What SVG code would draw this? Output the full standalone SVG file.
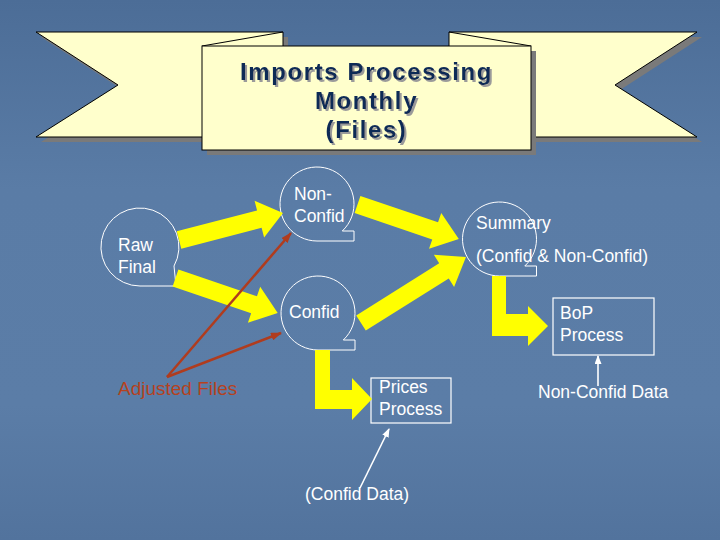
<svg xmlns="http://www.w3.org/2000/svg" width="720" height="540" viewBox="0 0 720 540">
<defs>
<linearGradient id="bg" x1="0" y1="0" x2="0" y2="1">
<stop offset="0" stop-color="#4C6D97"/>
<stop offset="0.35" stop-color="#5A7CA6"/>
<stop offset="0.75" stop-color="#5B7DA7"/>
<stop offset="1" stop-color="#52739D"/>
</linearGradient>
<filter id="tshadow" x="-10%" y="-30%" width="130%" height="160%">
<feFlood flood-color="#9A9A9A" result="c"/>
<feComposite in="c" in2="SourceAlpha" operator="in" result="s"/>
<feOffset in="s" dx="2" dy="1.5" result="o"/>
<feMerge><feMergeNode in="o"/><feMergeNode in="SourceGraphic"/></feMerge>
</filter>
<marker id="redHead" markerUnits="userSpaceOnUse" markerWidth="11" markerHeight="8" refX="10" refY="4" orient="auto">
<path d="M0,0 L11,4 L0,8 Z" fill="#B03C1E"/>
</marker>
<marker id="whiteHead" markerUnits="userSpaceOnUse" markerWidth="9" markerHeight="7" refX="8" refY="3.5" orient="auto">
<path d="M0,0 L9,3.5 L0,7 Z" fill="#FFFFFF"/>
</marker>
</defs>
<style>
.rib{fill:#FFFFCC;stroke:#000;stroke-width:1;stroke-linejoin:miter}
.shd{fill:#7A7A7A}
.title{font-family:"Liberation Sans",Arial,sans-serif;font-weight:bold;font-size:24px;letter-spacing:1.6px;text-anchor:middle;fill:#0C2A57}
.w{font-family:"Liberation Sans",Arial,sans-serif;font-size:17.5px;fill:#FFFFFF}
.bub{fill:none;stroke:#FFFFFF;stroke-width:1}
.box{fill:none;stroke:#FFFFFF;stroke-width:1.2}
.ya{fill:#FFFF00}
.red{stroke:#B03C1E;stroke-width:2.5;fill:none}
.wl{stroke:#FFFFFF;stroke-width:1.6;fill:none}
</style>
<rect x="0" y="0" width="720" height="540" fill="url(#bg)"/>

<g id="ribbon">
<polygon class="shd" points="41,37 288,37 288,142 41,142 123,90"/>
<polygon class="shd" points="454,37 702,37 620,90 702,142 454,142"/>
<polygon class="rib" points="36,32 283,32 283,137 36,137 118,85"/>
<line x1="283" y1="32" x2="202" y2="46" stroke="#000" stroke-width="1"/>
<polygon class="rib" points="449,32 697,32 615,85 697,137 449,137"/>
<line x1="449" y1="32" x2="531" y2="46" stroke="#000" stroke-width="1"/>
<rect class="shd" x="207" y="51" width="329" height="104"/>
<rect class="rib" x="202" y="46" width="329" height="104"/>
<g class="title" filter="url(#tshadow)">
<text x="366.5" y="80">Imports Processing</text>
<text x="366.5" y="109">Monthly</text>
<text x="366.5" y="138">(Files)</text>
</g>
</g>

<g id="raw-final">
<path class="bub" d="M174,266 A39,39 0 1 0 140,286 L176,286 Z"/>
<text class="w" x="118" y="251">Raw</text>
<text class="w" x="118" y="273">Final</text>
</g>

<g id="non-confid">
<path class="bub" d="M342.3,231 A37,37 0 1 0 317,241 L354,241 L354,231 Z"/>
<text class="w" x="294" y="200">Non-</text>
<text class="w" x="294" y="222">Confid</text>
</g>

<g id="confid">
<path class="bub" d="M343.3,340 A37,37 0 1 0 318,350 L355,350 L355,340 Z"/>
<text class="w" x="289" y="318">Confid</text>
</g>

<g id="summary">
<path class="bub" d="M524.8,266 A37,37 0 1 0 499.5,276 L536.5,276 L536.5,266 Z"/>
<text class="w" x="476" y="229">Summary</text>
<text class="w" x="476" y="262">(Confid &amp; Non-Confid)</text>
</g>

<g id="bop-process">
<rect class="box" x="553" y="298" width="101" height="57"/>
<text class="w" x="560" y="319">BoP</text>
<text class="w" x="560" y="341">Process</text>
</g>

<g id="prices-process">
<rect class="box" x="371" y="378" width="80" height="45"/>
<text class="w" x="379" y="393">Prices</text>
<text class="w" x="379" y="415">Process</text>
</g>

<g id="adjusted-files">
<text x="118" y="395" font-family="Liberation Sans, Arial, sans-serif" font-size="19" fill="#B5421F">Adjusted Files</text>
</g>

<g id="confid-data">
<text class="w" x="305" y="500">(Confid Data)</text>
</g>

<g id="non-confid-data">
<text class="w" x="538" y="398">Non-Confid Data</text>
</g>

<g id="connectors">
<path class="ya" transform="translate(179,240) rotate(-14.55)" d="M0,-9 H83 V-19 L107.4,0 L83,19 V9 H0 Z"/>
<path class="ya" transform="translate(357.5,204.5) rotate(18.77)" d="M0,-9 H82 V-19 L107,0 L82,19 V9 H0 Z"/>
<path class="ya" transform="translate(175.5,278) rotate(18.85)" d="M0,-9 H83 V-19 L108,0 L83,19 V9 H0 Z"/>
<path class="ya" transform="translate(361,323) rotate(-32.15)" d="M0,-9 H98 V-19 L124,0 L98,19 V9 H0 Z"/>
<path class="ya" d="M492,276 H506 V314 H528 V306 L548,326 L528,346 V336 H492 Z"/>
<path class="ya" d="M315,350 H330 V390 H352 V378 L372,399 L352,420 V409 H315 Z"/>
<line class="red" x1="167" y1="377" x2="291" y2="233" marker-end="url(#redHead)"/>
<line class="red" x1="167" y1="377" x2="281" y2="333" marker-end="url(#redHead)"/>
<line class="wl" x1="360" y1="488" x2="389" y2="429" marker-end="url(#whiteHead)"/>
<line class="wl" x1="598" y1="386" x2="598" y2="356" marker-end="url(#whiteHead)"/>
</g>
</svg>
